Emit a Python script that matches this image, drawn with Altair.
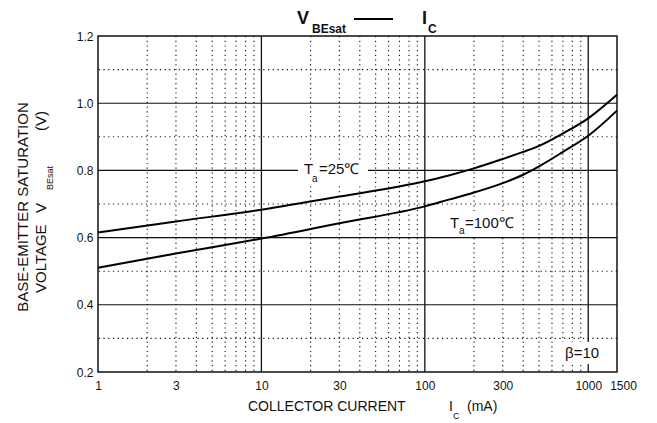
import altair as alt
import pandas as pd

# ---- data ----
x_tick_values = [1, 3, 10, 30, 100, 300, 1000, 1500]
y_tick_values = [0.2, 0.4, 0.6, 0.8, 1.0, 1.2]

ic_ma = [1, 3, 10, 30, 100, 140, 200, 300, 400, 500, 700, 1000, 1500]
vbe_25c = [0.615, 0.648, 0.683, 0.722, 0.768, 0.785, 0.806, 0.834, 0.855, 0.873, 0.910, 0.955, 1.025]
vbe_100c = [0.510, 0.553, 0.597, 0.643, 0.693, 0.713, 0.734, 0.762, 0.787, 0.812, 0.855, 0.903, 0.978]

major_x = [10, 100, 1000]
minor_x = [2, 3, 4, 5, 6, 7, 8, 9, 20, 30, 40, 50, 60, 70, 80, 90,
           200, 300, 400, 500, 600, 700, 800, 900]
major_y = [0.4, 0.6, 0.8, 1.0]
minor_y = [0.3, 0.5, 0.7, 0.9, 1.1]

FONT = "Liberation Sans"
W, H = 519, 336

xscale = alt.Scale(type="log", domain=[1, 1500], nice=False)
yscale = alt.Scale(domain=[0.2, 1.2], nice=False)

xaxis = alt.Axis(values=x_tick_values, format="d", title=None, grid=False,
                 ticks=False, domain=False, labelFontSize=12, labelFont=FONT,
                 labelColor="#111", labelPadding=8, labelFlush=False,
                 labelOffset={"condition": {"test": "datum.value == 1500", "value": 6},
                              "value": 0})
yaxis = alt.Axis(values=y_tick_values, format=".1f", title=None, grid=False,
                 ticks=False, domain=False, labelFontSize=12, labelFont=FONT,
                 labelColor="#111", labelPadding=5)

curves = pd.DataFrame({
    "x": ic_ma * 2,
    "y": vbe_25c + vbe_100c,
    "series": ["25"] * len(ic_ma) + ["100"] * len(ic_ma),
})

dummy = pd.DataFrame({"d": [0]})


def vrules(vals, dash=None, width=1.0):
    kw = dict(color="#111", strokeWidth=width)
    if dash:
        kw["strokeDash"] = dash
    return alt.Chart(pd.DataFrame({"x": vals})).mark_rule(**kw).encode(
        x=alt.X("x:Q", scale=xscale, axis=xaxis))


def hrules(vals, dash=None, width=1.0):
    kw = dict(color="#111", strokeWidth=width)
    if dash:
        kw["strokeDash"] = dash
    return alt.Chart(pd.DataFrame({"y": vals})).mark_rule(**kw).encode(
        y=alt.Y("y:Q", scale=yscale, axis=yaxis))


def txt(s, x, y, size, align="left", baseline="alphabetic", bold=False, angle=0):
    kw = dict(text=s, fontSize=size, align=align, baseline=baseline, font=FONT,
              color="#111", fontWeight="bold" if bold else "normal")
    if angle:
        kw["angle"] = angle
    return alt.Chart(dummy).mark_text(**kw).encode(x=alt.value(x), y=alt.value(y))


def box(x1, x2, y1, y2):
    return alt.Chart(dummy).mark_rect(color="white").encode(
        x=alt.value(x1), x2=alt.value(x2), y=alt.value(y1), y2=alt.value(y2))


lines = alt.Chart(curves).mark_line(color="black", strokeWidth=2, interpolate="monotone").encode(
    x=alt.X("x:Q", scale=xscale, axis=xaxis),
    y=alt.Y("y:Q", scale=yscale, axis=yaxis),
    detail="series:N",
)

layers = [
    vrules(minor_x, dash=[1.2, 3.5], width=1.1),
    hrules(minor_y, dash=[1.2, 3.5], width=1.1),
    vrules(major_x, width=1.3),
    hrules(major_y, width=1.1),
    lines,
    # white backgrounds behind annotations
    box(200, 270, 125, 147),
    box(349, 420, 178, 199),
    box(462, 510, 306, 328),
    # curve labels
    txt("T", 206, 138, 15),
    txt("a", 214, 146, 10),
    txt("=25℃", 221, 138, 15),
    txt("T", 352, 192, 15),
    txt("a", 361, 198, 10),
    txt("=100℃", 367, 192, 15),
    txt("β=10", 467, 322, 15),
    # chart title  V_BEsat —— I_C
    txt("V", 199, -12, 18, bold=True),
    txt("BEsat", 214, -3, 12, bold=True),
    alt.Chart(dummy).mark_rule(color="black", strokeWidth=2).encode(
        x=alt.value(256), x2=alt.value(295), y=alt.value(-17)),
    txt("I", 324, -12, 18, bold=True),
    txt("C", 330, -3, 12, bold=True),
    # x-axis title
    txt("COLLECTOR CURRENT", 150, 375, 14),
    txt("I", 351, 375, 14),
    txt("C", 355, 383, 9),
    txt("(mA)", 369, 375, 14),
    # y-axis title (rotated)
    txt("BASE-EMITTER SATURATION", -75.5, 171, 15, align="center", baseline="middle", angle=270),
    txt("VOLTAGE", -57, 257, 15, baseline="middle", angle=270),
    txt("V", -57, 177, 15, baseline="middle", angle=270),
    txt("BEsat", -48, 154, 9, baseline="middle", angle=270),
    txt("(V)", -57, 95, 15, baseline="middle", angle=270),
]

chart = alt.layer(*layers).properties(
    width=W, height=H,
    autosize=alt.AutoSizeParams(type="none"),
    padding={"left": 90, "top": 28, "right": 30, "bottom": 50},
    background="white",
).configure_view(stroke="#111", strokeWidth=1.5)

chart.save("out.html", embed_options={"renderer": "svg", "actions": False})
